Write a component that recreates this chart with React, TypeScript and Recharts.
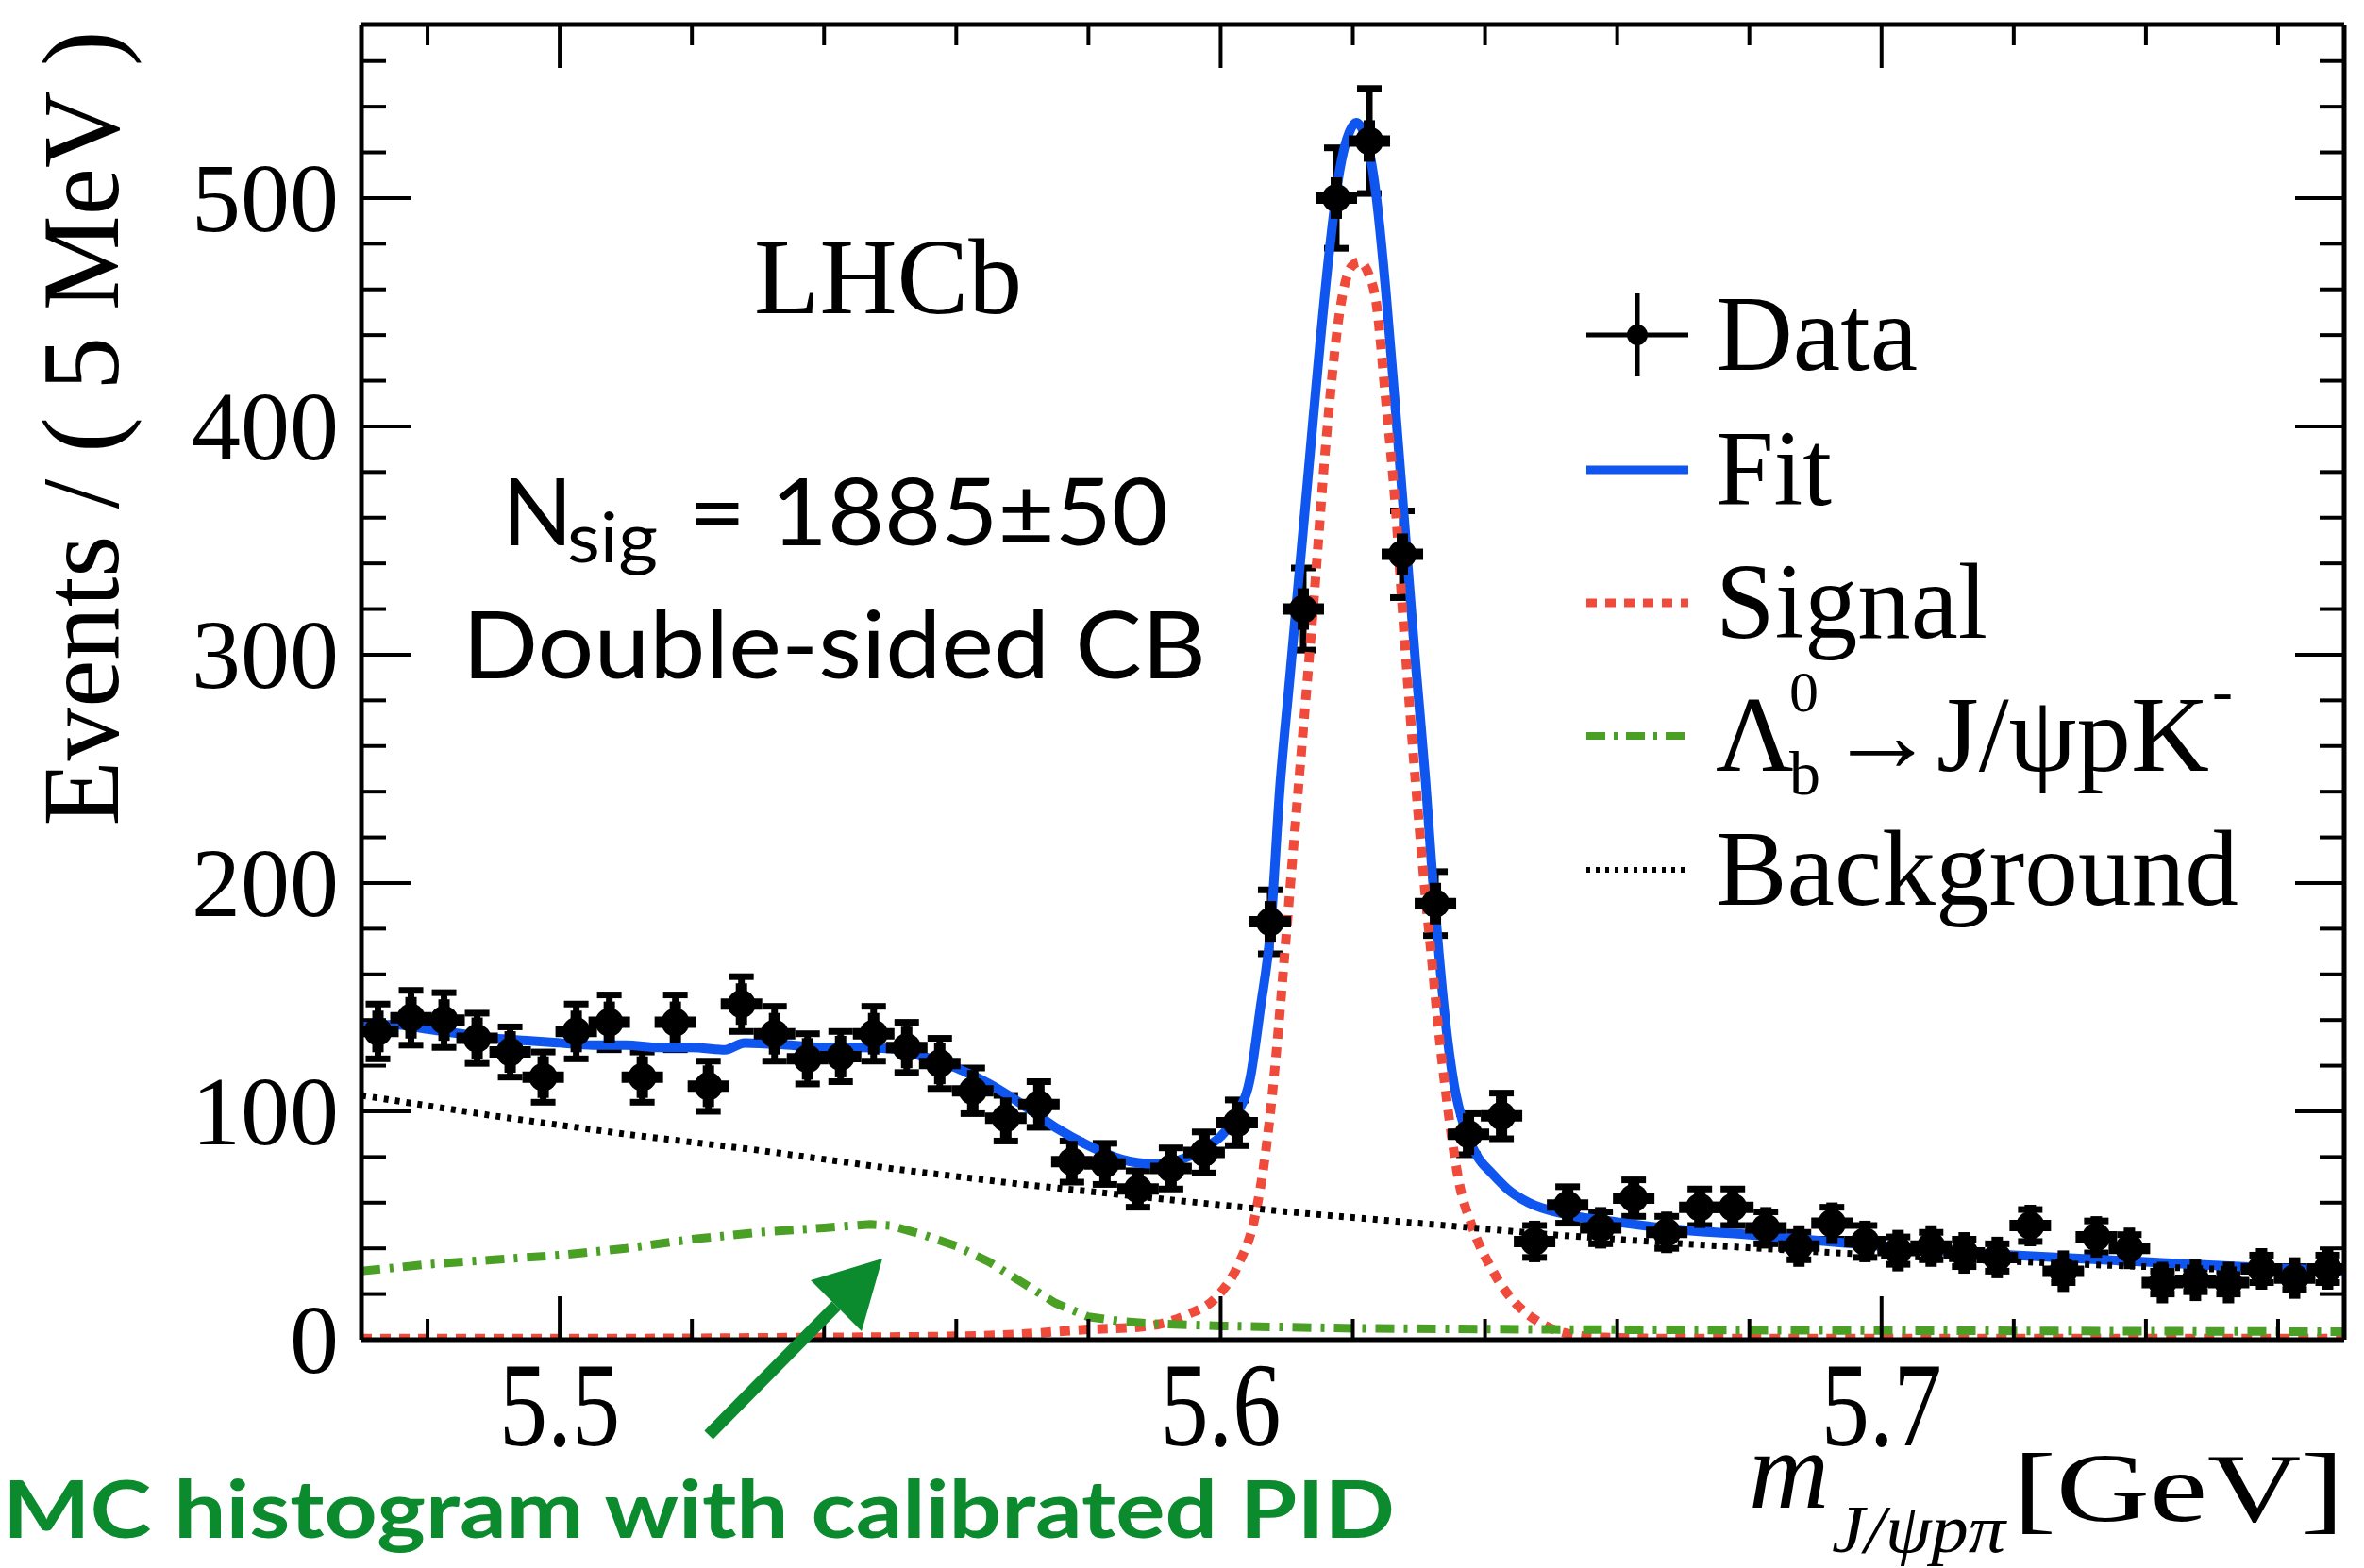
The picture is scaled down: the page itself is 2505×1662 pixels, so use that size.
import { ComposedChart, ErrorBar, Line, Scatter, XAxis, YAxis } from 'recharts'

const W = 2505
const H = 1662

const SERIF = '"Liberation Serif", "Times New Roman", serif'
const SANS = 'Lato, "Open Sans", sans-serif'

const FIT_BLUE = '#0f55ef'
const SIG_RED = '#ef4a3a'
const LB_GREEN = '#4a9f25'
const NOTE_GREEN = '#0b8a2e'

// bin centres (5 MeV bins) and event counts
const massBins = [
	5.4725, 5.4775, 5.4825, 5.4875, 5.4925, 5.4975, 5.5025, 5.5075, 5.5125, 5.5175,
	5.5225, 5.5275, 5.5325, 5.5375, 5.5425, 5.5475, 5.5525, 5.5575, 5.5625, 5.5675,
	5.5725, 5.5775, 5.5825, 5.5875, 5.5925, 5.5975, 5.6025, 5.6075, 5.6125, 5.6175,
	5.6225, 5.6275, 5.6325, 5.6375, 5.6425, 5.6475, 5.6525, 5.6575, 5.6625, 5.6675,
	5.6725, 5.6775, 5.6825, 5.6875, 5.6925, 5.6975, 5.7025, 5.7075, 5.7125, 5.7175,
	5.7225, 5.7275, 5.7325, 5.7375, 5.7425, 5.7475, 5.7525, 5.7575, 5.7625, 5.7675,
]
const eventCounts = [
	135, 141, 140, 132, 126, 115, 135, 139, 115, 139,
	111, 147, 134, 123, 124, 134, 128, 121, 109, 97,
	103, 78, 77, 66, 75, 82, 95, 183, 320, 500,
	525, 344, 191, 90, 98, 43, 59, 49, 62, 47,
	58, 58, 49, 41, 51, 43, 39, 41, 38, 36,
	50, 30, 45, 40, 25, 26, 25, 31, 27, 31,
]
const eventErrors = [
	12, 12, 12, 11, 11, 11, 12, 12, 11, 12,
	11, 12, 12, 11, 11, 12, 11, 11, 10, 10,
	10, 9, 9, 8, 9, 9, 10, 14, 18, 22,
	23, 19, 14, 9, 10, 7, 8, 7, 8, 7,
	8, 8, 7, 6, 7, 7, 6, 6, 6, 6,
	7, 5, 7, 6, 5, 5, 5, 6, 5, 6,
]

// total fit
const fitMass = [
	5.47, 5.475, 5.48, 5.485, 5.49, 5.495, 5.5, 5.505, 5.51, 5.515, 5.52, 5.525, 5.528,
	5.535, 5.54, 5.545, 5.55, 5.555, 5.56, 5.565, 5.57, 5.575, 5.58, 5.585, 5.59, 5.595,
	5.5975, 5.6, 5.6025, 5.6045, 5.606, 5.6075, 5.609, 5.6105, 5.612, 5.6135, 5.615,
	5.6165, 5.618, 5.6195, 5.6205, 5.622, 5.6235, 5.625, 5.6265, 5.628, 5.6295, 5.631,
	5.632, 5.633, 5.634, 5.6353, 5.637, 5.6389, 5.641, 5.6438, 5.6466, 5.652, 5.66, 5.67,
	5.68, 5.69, 5.7, 5.72, 5.737, 5.754, 5.77,
]
const fitValues = [
	137, 138, 136, 134, 132, 131, 130, 129, 129, 128, 128, 127, 130,
	129, 128, 128, 127.5, 124, 119, 112, 103, 93, 85, 79, 77, 80,
	84, 89, 99, 115, 145, 178, 243, 291, 339, 387, 435,
	478, 512, 529, 533, 526, 502, 459, 406, 351, 296, 245,
	205, 170, 140, 112, 92, 80, 73, 65, 60, 55, 51.5, 48,
	46, 43.5, 41, 37, 34.5, 32, 30,
]

// signal (double-sided CB)
const signalMass = [
	5.47, 5.5, 5.54, 5.56, 5.57, 5.575, 5.58, 5.5875, 5.591, 5.595, 5.5995, 5.6027,
	5.6052, 5.6068, 5.6079, 5.6088, 5.6096, 5.6104, 5.612, 5.614, 5.616, 5.618, 5.6198,
	5.621, 5.6225, 5.6235, 5.625, 5.6265, 5.6275, 5.629, 5.631, 5.632, 5.633, 5.634,
	5.635, 5.636, 5.638, 5.641, 5.644, 5.648, 5.652, 5.658, 5.67, 5.7, 5.77,
]
const signalValues = [
	0.5, 0.5, 1, 1.5, 2.5, 3.5, 4.5, 5.5, 7, 11, 19, 33,
	54, 82, 110, 138, 166, 194, 250, 320, 395, 450, 470,
	472, 466, 455, 411, 363, 320, 262, 194, 165, 135, 110,
	88, 70, 50, 31, 18, 8, 3, 1, 0.5, 0.5, 0.5,
]

// Lambda_b -> J/psi p K- (MC histogram)
const lambdaMass = [
	5.47, 5.48, 5.49, 5.5, 5.51, 5.52, 5.53, 5.54, 5.547, 5.55, 5.555, 5.56,
	5.565, 5.57, 5.575, 5.58, 5.585, 5.59, 5.6, 5.62, 5.65, 5.7, 5.77,
]
const lambdaValues = [
	30, 33, 35, 37, 40, 44, 47, 49, 50.5, 50, 46, 41,
	34, 25, 16, 10, 8, 7, 6, 5, 4.5, 4, 3.5,
]

// combinatorial background
const bkgMass = [
	5.47, 5.49, 5.51, 5.53, 5.55, 5.57, 5.59, 5.61, 5.63, 5.65, 5.67, 5.69, 5.71, 5.73, 5.75, 5.77,
]
const bkgValues = [107, 98, 90, 83, 75, 68, 62, 56, 51, 46, 42, 38.5, 35.5, 33, 31, 29]

const yTicks = [
	0, 20, 40, 60, 80, 100, 120, 140, 160, 180, 200, 220, 240, 260, 280, 300, 320, 340,
	360, 380, 400, 420, 440, 460, 480, 500, 520, 540, 560,
]
const xTicks = [
	5.48, 5.5, 5.52, 5.54, 5.56, 5.58, 5.6, 5.62, 5.64, 5.66, 5.68, 5.7, 5.72, 5.74, 5.76,
]

const pairs = (xs: number[], ys: number[]) => xs.map((m, i) => ({ m, v: ys[i] }))

const points = massBins.map((m, i) => ({ m, v: eventCounts[i], err: eventErrors[i] }))
const fitData = pairs(fitMass, fitValues)
const signalData = pairs(signalMass, signalValues)
const lambdaData = pairs(lambdaMass, lambdaValues)
const bkgData = pairs(bkgMass, bkgValues)

const isMajorX = (v: number) => Math.abs(v * 10 - Math.round(v * 10)) < 1e-6
const isMajorY = (v: number) => v % 100 === 0

function BottomTick({ x, y, payload }: any) {
	const major = isMajorX(payload.value)
	return (
		<g>
			<line x1={x} x2={x} y1={y} y2={y - (major ? 46 : 22)} stroke="#000" strokeWidth={4} />
			{major && (
				<text
					x={x}
					y={y + 112}
					textAnchor="middle"
					fontFamily={SERIF}
					fontSize={126}
					textLength={128}
					lengthAdjust="spacingAndGlyphs"
				>
					{payload.value.toFixed(1)}
				</text>
			)}
		</g>
	)
}

function TopTick({ x, y, payload }: any) {
	const major = isMajorX(payload.value)
	return <line x1={x} x2={x} y1={y} y2={y + (major ? 46 : 22)} stroke="#000" strokeWidth={4} />
}

function LeftTick({ x, y, payload }: any) {
	const major = isMajorY(payload.value)
	return (
		<g>
			<line x1={x} x2={x + (major ? 52 : 26)} y1={y} y2={y} stroke="#000" strokeWidth={4} />
			{major && (
				<text x={x - 24} y={y + 35} textAnchor="end" fontFamily={SERIF} fontSize={104}>
					{payload.value}
				</text>
			)}
		</g>
	)
}

function RightTick({ x, y, payload }: any) {
	const major = isMajorY(payload.value)
	return <line x1={x} x2={x - (major ? 52 : 26)} y1={y} y2={y} stroke="#000" strokeWidth={4} />
}

function DataMarker({ cx, cy }: any) {
	if (cx == null || cy == null) return null
	return (
		<g>
			<line x1={cx - 22} x2={cx + 22} y1={cy} y2={cy} stroke="#000" strokeWidth={12} />
			<line x1={cx} x2={cx} y1={cy - 22} y2={cy + 22} stroke="#000" strokeWidth={12} />
			<circle cx={cx} cy={cy} r={15} fill="#000" />
		</g>
	)
}

const frame = { stroke: '#000', strokeWidth: 5 }

function Annotations() {
	const rows = [355, 498, 639, 780, 922]
	const sx1 = 1681
	const sx2 = 1789
	const tx = 1818
	return (
		<svg
			width={W}
			height={H}
			style={{ position: 'absolute', left: 0, top: 0, pointerEvents: 'none' }}
		>
			{/* y axis title */}
			<text
				x={125}
				y={454}
				transform="rotate(-90 125 454)"
				textAnchor="middle"
				fontFamily={SERIF}
				fontSize={116}
				textLength={843}
				lengthAdjust="spacingAndGlyphs"
			>
				Events / ( 5 MeV )
			</text>

			{/* x axis title */}
			<text x={1853} y={1598} fontFamily={SERIF} fontStyle="italic" fontSize={118}>
				m
			</text>
			<text
				x={1941}
				y={1645}
				fontFamily={SERIF}
				fontStyle="italic"
				fontSize={72}
				textLength={184}
				lengthAdjust="spacingAndGlyphs"
			>
				J/ψpπ
			</text>
			<text
				x={2133}
				y={1612}
				fontFamily={SERIF}
				fontSize={104}
				textLength={351}
				lengthAdjust="spacingAndGlyphs"
			>
				[GeV]
			</text>

			<text
				x={799}
				y={332}
				fontFamily={SERIF}
				fontSize={115}
				textLength={284}
				lengthAdjust="spacingAndGlyphs"
			>
				LHCb
			</text>

			<text x={532} y={578} fontFamily={SANS} fontSize={98}>
				N
			</text>
			<text
				x={601}
				y={596}
				fontFamily={SANS}
				fontSize={74}
				textLength={96}
				lengthAdjust="spacingAndGlyphs"
			>
				sig
			</text>
			<text
				x={730}
				y={578}
				fontFamily={SANS}
				fontSize={98}
				textLength={508}
				lengthAdjust="spacingAndGlyphs"
			>
				= 1885±50
			</text>
			<text
				x={490}
				y={719}
				fontFamily={SANS}
				fontSize={98}
				textLength={788}
				lengthAdjust="spacingAndGlyphs"
			>
				Double-sided CB
			</text>

			{/* legend */}
			<line x1={sx1} x2={sx2} y1={rows[0]} y2={rows[0]} stroke="#000" strokeWidth={5} />
			<line x1={1735} x2={1735} y1={rows[0] - 44} y2={rows[0] + 44} stroke="#000" strokeWidth={5} />
			<circle cx={1735} cy={rows[0]} r={11} fill="#000" />
			<line x1={sx1} x2={sx2} y1={rows[1]} y2={rows[1]} stroke={FIT_BLUE} strokeWidth={9} />
			<line
				x1={sx1}
				x2={sx2}
				y1={rows[2]}
				y2={rows[2]}
				stroke={SIG_RED}
				strokeWidth={9}
				strokeDasharray="11 9"
			/>
			<line
				x1={sx1}
				x2={sx2}
				y1={rows[3]}
				y2={rows[3]}
				stroke={LB_GREEN}
				strokeWidth={8}
				strokeDasharray="20 9 4 9"
			/>
			<line
				x1={sx1}
				x2={sx2}
				y1={rows[4]}
				y2={rows[4]}
				stroke="#000"
				strokeWidth={6}
				strokeDasharray="4 6"
			/>
			<g fontFamily={SERIF} fontSize={114}>
				<text x={tx} y={rows[0] + 37} textLength={214} lengthAdjust="spacingAndGlyphs">
					Data
				</text>
				<text x={tx} y={rows[1] + 37} textLength={123} lengthAdjust="spacingAndGlyphs">
					Fit
				</text>
				<text x={tx} y={rows[2] + 37} textLength={288} lengthAdjust="spacingAndGlyphs">
					Signal
				</text>
				<text x={tx} y={rows[3] + 37}>
					Λ
				</text>
				<text x={1896} y={rows[3] - 26} fontSize={62}>
					0
				</text>
				<text x={1896} y={rows[3] + 62} fontSize={66}>
					b
				</text>
				<text x={1937} y={rows[3] + 37} textLength={404} lengthAdjust="spacingAndGlyphs">
					→J/ψpK
				</text>
				<text x={2344} y={rows[3] - 26} fontSize={66}>
					-
				</text>
				<text x={tx} y={rows[4] + 37} textLength={554} lengthAdjust="spacingAndGlyphs">
					Background
				</text>
			</g>

			{/* annotation arrow and note */}
			<line x1={751} y1={1521} x2={886} y2={1384} stroke={NOTE_GREEN} strokeWidth={13} />
			<polygon points="935,1334 913,1411 859,1357" fill={NOTE_GREEN} />
			<text
				x={3}
				y={1630}
				fontFamily={SANS}
				fontWeight={700}
				fontSize={84}
				fill={NOTE_GREEN}
				textLength={1475}
				lengthAdjust="spacingAndGlyphs"
			>
				MC histogram with calibrated PID
			</text>
		</svg>
	)
}

export default function App() {
	return (
		<div
			style={{
				position: 'absolute',
				left: 0,
				top: 0,
				width: W,
				height: H,
				background: '#fff',
				overflow: 'hidden',
			}}
		>
			<ComposedChart
				width={W}
				height={H}
				margin={{ top: 6, right: 1, bottom: 142, left: 283 }}
			>
				<XAxis
					xAxisId="bottom"
					dataKey="m"
					type="number"
					domain={[5.47, 5.77]}
					allowDataOverflow
					ticks={xTicks}
					interval={0}
					height={100}
					orientation="bottom"
					axisLine={frame}
					tickLine={false}
					tickSize={0}
					tickMargin={0}
					tick={(p: any) => <BottomTick {...p} />}
				/>
				<XAxis
					xAxisId="top"
					dataKey="m"
					type="number"
					domain={[5.47, 5.77]}
					allowDataOverflow
					ticks={xTicks}
					interval={0}
					height={20}
					orientation="top"
					axisLine={frame}
					tickLine={false}
					tickSize={0}
					tickMargin={0}
					tick={(p: any) => <TopTick {...p} />}
				/>
				<YAxis
					yAxisId="left"
					type="number"
					domain={[0, 576]}
					allowDataOverflow
					ticks={yTicks}
					interval={0}
					width={100}
					orientation="left"
					axisLine={frame}
					tickLine={false}
					tickSize={0}
					tickMargin={0}
					tick={(p: any) => <LeftTick {...p} />}
				/>
				<YAxis
					yAxisId="right"
					type="number"
					domain={[0, 576]}
					allowDataOverflow
					ticks={yTicks}
					interval={0}
					width={20}
					orientation="right"
					axisLine={frame}
					tickLine={false}
					tickSize={0}
					tickMargin={0}
					tick={(p: any) => <RightTick {...p} />}
				/>

				<Scatter
					xAxisId="bottom"
					yAxisId="left"
					data={points}
					dataKey="v"
					isAnimationActive={false}
					shape={(p: any) => <DataMarker {...p} />}
				>
					<ErrorBar
						dataKey="err"
						direction="y"
						width={13}
						strokeWidth={7}
						stroke="#000"
						isAnimationActive={false}
					/>
				</Scatter>
				<Line
					xAxisId="bottom"
					yAxisId="left"
					data={fitData}
					dataKey="v"
					type="monotone"
					stroke={FIT_BLUE}
					strokeWidth={10}
					dot={false}
					activeDot={false}
					isAnimationActive={false}
				/>
				<Line
					xAxisId="bottom"
					yAxisId="left"
					data={signalData}
					dataKey="v"
					type="monotone"
					stroke={SIG_RED}
					strokeWidth={10}
					strokeDasharray="11 9"
					dot={false}
					activeDot={false}
					isAnimationActive={false}
				/>
				<Line
					xAxisId="bottom"
					yAxisId="left"
					data={lambdaData}
					dataKey="v"
					type="linear"
					stroke={LB_GREEN}
					strokeWidth={9}
					strokeDasharray="20 10 4 10"
					dot={false}
					activeDot={false}
					isAnimationActive={false}
				/>
				<Line
					xAxisId="top"
					yAxisId="right"
					data={bkgData}
					dataKey="v"
					type="linear"
					stroke="#000"
					strokeWidth={7}
					strokeDasharray="5 7"
					dot={false}
					activeDot={false}
					isAnimationActive={false}
				/>
			</ComposedChart>
			<Annotations />
		</div>
	)
}
